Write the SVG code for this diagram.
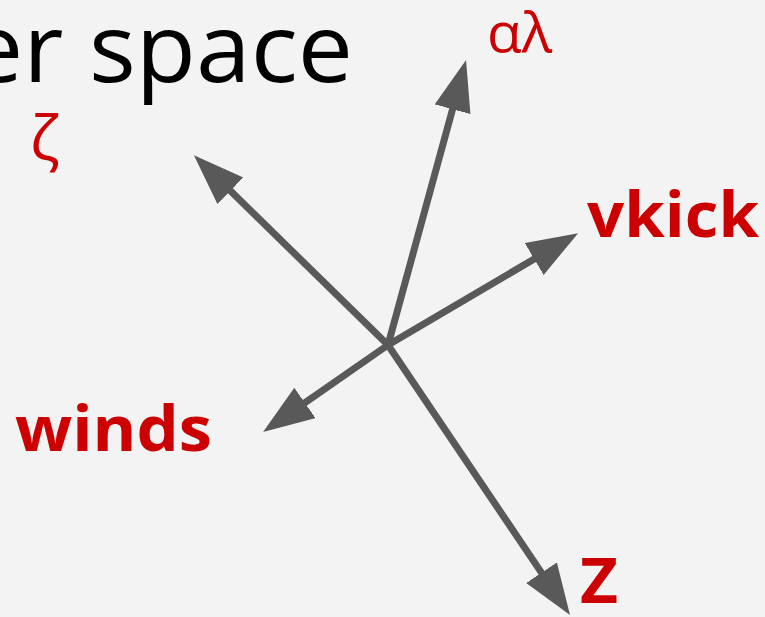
<svg xmlns="http://www.w3.org/2000/svg" width="765" height="617" viewBox="0 0 765 617">
<defs>
<marker id="ah" markerUnits="userSpaceOnUse" markerWidth="52" markerHeight="38" refX="5" refY="18.5" orient="auto" viewBox="0 0 52 38">
<path d="M0,0 L51,18.5 L0,37 z" fill="#595959"/>
</marker>
<style>
.ax{stroke:#595959;stroke-width:7;fill:none;marker-end:url(#ah)}
.lbl{fill:#cc0000;font-family:"Open Sans","DejaVu Sans",sans-serif}
.b{font-weight:700;font-size:62px}
.g{font-size:54px}
.title{fill:#000;font-family:"Open Sans","DejaVu Sans",sans-serif;font-size:96px}
</style>
</defs>
<rect width="765" height="617" fill="#f3f3f3"/>
<text class="title" x="353" y="82" text-anchor="end" textLength="385" lengthAdjust="spacingAndGlyphs">er space</text>
<g id="connectors">
<line class="ax" x1="388" y1="345" x2="453.9" y2="104.4"/>
<line class="ax" x1="388" y1="345" x2="226.8" y2="187.3"/>
<line class="ax" x1="388" y1="345" x2="538.5" y2="256.5"/>
<line class="ax" x1="388" y1="345" x2="300.8" y2="405.7"/>
<line class="ax" x1="388" y1="345" x2="544.3" y2="576.9"/>
</g>
<g id="node-alphalambda"><text class="lbl g" x="487" y="52" textLength="65" lengthAdjust="spacingAndGlyphs">αλ</text></g>
<g id="node-zeta"><text class="lbl" x="30" y="160" font-size="62">ζ</text></g>
<g id="node-vkick"><text class="lbl b" x="587" y="237" textLength="172" lengthAdjust="spacingAndGlyphs">vkick</text></g>
<g id="node-winds"><text class="lbl b" x="15" y="451" textLength="197" lengthAdjust="spacingAndGlyphs">winds</text></g>
<g id="node-z"><text class="lbl b" x="580" y="603" textLength="38" lengthAdjust="spacingAndGlyphs">Z</text></g>
</svg>
